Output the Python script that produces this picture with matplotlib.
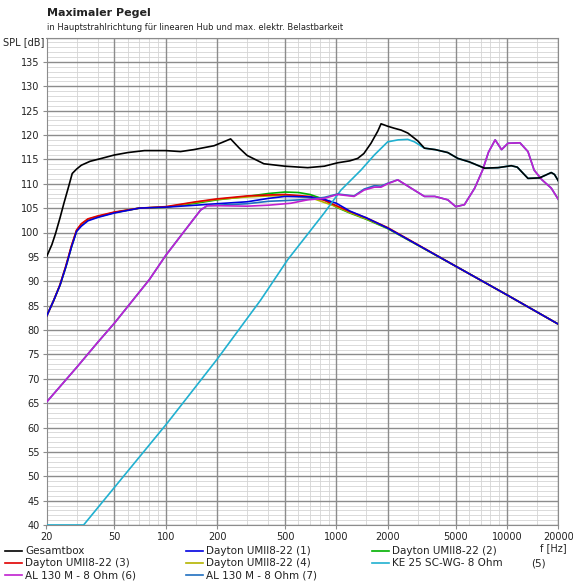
import numpy as np
import matplotlib
matplotlib.use("Agg")
import matplotlib.pyplot as plt
from matplotlib.lines import Line2D

# Gesamtbox
f_total = [20, 21.5, 22.6, 24, 25.3, 27, 28.3, 30, 32, 36, 42, 50, 60, 75, 100, 122,
           146, 192, 215, 240, 270, 300, 376, 500, 679, 850, 1018, 1200, 1334, 1450,
           1596, 1750, 1828, 2000, 2179, 2400, 2623, 3000, 3284, 3800, 4500, 5152,
           6000, 7387, 8860, 10600, 11500, 13280, 15530, 18190, 19000, 20000]
spl_total = [95.0, 97.5, 99.8, 103.0, 106.0, 109.5, 112.1, 113.0, 113.8, 114.6, 115.2,
             115.9, 116.4, 116.8, 116.8, 116.6, 117.0, 117.8, 118.5, 119.2, 117.3, 115.8,
             114.1, 113.6, 113.3, 113.6, 114.3, 114.7, 115.2, 116.2, 118.3, 120.8, 122.3,
             121.8, 121.4, 121.0, 120.4, 118.8, 117.3, 117.0, 116.4, 115.2, 114.5, 113.2,
             113.3, 113.7, 113.4, 111.1, 111.2, 112.3, 111.9, 110.6]

# Dayton UMII8-22 (1)
f_d1 = [20, 22, 24, 26, 28, 30, 32, 35, 40, 50, 70, 100, 150, 200, 300, 400, 500, 700,
        850, 1000, 1200, 1500, 2000, 5000, 10000, 20000]
spl_d1 = [82.8, 86.0, 89.2, 93.0, 97.0, 100.2, 101.3, 102.4, 103.1, 104.0, 105.0, 105.2,
          105.6, 105.9, 106.3, 107.0, 107.4, 107.3, 106.8, 106.0, 104.4, 103.0, 100.9,
          93.1, 87.2, 81.2]

# Dayton UMII8-22 (2)
f_d2 = [20, 22, 24, 26, 28, 30, 32, 35, 40, 50, 70, 100, 150, 200, 300, 400, 500, 600,
        700, 850, 1000, 1200, 1500, 2000, 5000, 10000, 20000]
spl_d2 = [82.8, 86.0, 89.2, 93.0, 97.0, 100.3, 101.6, 102.6, 103.2, 104.1, 105.0, 105.2,
          106.0, 106.7, 107.4, 108.0, 108.3, 108.2, 107.8, 106.8, 105.2, 104.0, 102.7,
          100.8, 93.1, 87.2, 81.2]

# Dayton UMII8-22 (3)
f_d3 = [20, 22, 24, 26, 28, 30, 32, 35, 40, 50, 70, 100, 150, 200, 300, 400, 500, 700,
        850, 1000, 1200, 1500, 2000, 5000, 10000, 20000]
spl_d3 = [82.8, 86.0, 89.3, 93.2, 97.3, 100.5, 101.8, 102.8, 103.4, 104.2, 105.0, 105.3,
          106.3, 106.9, 107.5, 107.7, 107.8, 107.4, 106.6, 105.5, 104.3, 103.0, 101.0,
          93.1, 87.2, 81.2]

# Dayton UMII8-22 (4)
f_d4 = [20, 22, 24, 26, 28, 30, 32, 35, 40, 50, 70, 100, 150, 200, 300, 400, 500, 700,
        1000, 1200, 1500, 2000, 5000, 10000, 20000]
spl_d4 = [82.8, 86.0, 89.2, 93.1, 97.1, 100.4, 101.7, 102.7, 103.3, 104.1, 105.0, 105.2,
          106.2, 106.8, 107.3, 107.5, 107.6, 107.2, 105.3, 104.1, 102.8, 100.9, 93.1,
          87.2, 81.2]

# KE 25 SC-WG- 8 Ohm (5)
f_ke = [20, 33, 50, 102, 200, 361, 518, 849, 1064, 1394, 1670, 2000, 2300, 2623, 2870,
        3284, 3800, 4500, 5152, 6000, 7387, 8860, 10600, 11500, 13280, 15530, 18190,
        19000, 20000]
spl_ke = [40.0, 40.0, 47.7, 60.9, 74.0, 86.2, 94.4, 104.0, 108.7, 112.8, 115.9, 118.6,
          119.0, 119.1, 118.6, 117.3, 117.0, 116.4, 115.2, 114.5, 113.2, 113.3, 113.7,
          113.4, 111.1, 111.2, 112.3, 111.9, 110.6]

# AL 130 M - 8 Ohm (6)
f_al6 = [20, 30, 40, 50, 80, 100, 130, 160, 175, 200, 300, 400, 540, 679, 849, 1018,
         1270, 1454, 1670, 1828, 2000, 2291, 2741, 3284, 3780, 4500, 5012, 5630, 6470,
         7200, 7800, 8530, 9300, 10140, 11920, 13280, 14430, 16050, 18190, 20000]
spl_al6 = [65.2, 72.3, 77.5, 81.4, 90.3, 95.3, 100.5, 104.6, 105.5, 105.5, 105.4, 105.6,
           106.0, 106.7, 107.0, 107.8, 107.4, 108.7, 109.3, 109.3, 110.0, 110.8, 109.1,
           107.4, 107.4, 106.7, 105.3, 105.7, 109.1, 112.8, 116.5, 119.0, 117.0, 118.3,
           118.4, 116.6, 112.8, 110.8, 109.1, 106.8]

# AL 130 M - 8 Ohm (7)
f_al7 = [20, 30, 40, 50, 80, 100, 130, 160, 175, 200, 300, 400, 540, 679, 849, 1018,
         1270, 1454, 1670, 1828, 2000, 2291, 2741, 3284, 3780, 4500, 5012, 5630, 6470,
         7200, 7800, 8530, 9300, 10140, 11920, 13280, 14430, 16050, 18190, 20000]
spl_al7 = [65.2, 72.3, 77.5, 81.4, 90.3, 95.3, 100.5, 104.6, 105.5, 105.6, 105.9, 106.4,
           106.6, 106.8, 107.2, 107.9, 107.5, 108.9, 109.6, 109.5, 110.1, 110.8, 109.1,
           107.4, 107.4, 106.7, 105.3, 105.7, 109.1, 112.8, 116.5, 119.0, 117.0, 118.3,
           118.4, 116.6, 112.8, 110.8, 109.1, 106.8]

x_major = [20, 50, 100, 200, 500, 1000, 2000, 5000, 10000, 20000]
x_minor = [30, 40, 60, 70, 80, 90, 150, 300, 400, 600, 700, 800, 900, 1500, 3000, 4000,
           6000, 7000, 8000, 9000, 15000]
y_major = list(range(40, 141, 5))
y_minor = [v for v in range(41, 140) if v % 5]

series = [
    (f_d2, spl_d2, "#00b000", "Dayton UMII8-22 (2)"),
    (f_d4, spl_d4, "#b4b400", "Dayton UMII8-22 (4)"),
    (f_d3, spl_d3, "#e00000", "Dayton UMII8-22 (3)"),
    (f_d1, spl_d1, "#0000e0", "Dayton UMII8-22 (1)"),
    (f_ke, spl_ke, "#20b0d0", "KE 25 SC-WG- 8 Ohm"),
    (f_al7, spl_al7, "#2070c0", "AL 130 M - 8 Ohm (7)"),
    (f_al6, spl_al6, "#c020d0", "AL 130 M - 8 Ohm (6)"),
    (f_total, spl_total, "#000000", "Gesamtbox"),
]

txt = "#222222"
fig = plt.figure(figsize=(5.73, 5.83), dpi=100)
ax = fig.add_axes([46.5 / 573, 1 - 525 / 583, (558.3 - 46.5) / 573, (525 - 37.5) / 583])

# grid drawn by hand so the major lines sit on top of the minor ones
for v in x_minor:
    ax.axvline(v, color="#d4d4d4", lw=0.6, zorder=0.5)
for v in y_minor:
    ax.axhline(v, color="#d4d4d4", lw=0.6, zorder=0.5)
for v in x_major:
    ax.axvline(v, color="#8c8c8c", lw=1.0, zorder=1)
for v in y_major:
    ax.axhline(v, color="#8c8c8c", lw=1.0, zorder=1)

for f, s, c, lab in series:
    ax.plot(f, s, color=c, lw=1.2, zorder=3)

ax.set_xscale("log")
ax.set_xlim(20, 20000)
ax.set_ylim(40, 140)
ax.set_xticks(x_major)
ax.set_xticklabels([str(v) for v in x_major])
ax.set_xticks([], minor=True)
ax.set_yticks(y_major[:-1])
ax.tick_params(which="major", length=3, color="#8c8c8c", labelsize=7, pad=2,
               labelcolor=txt)
for sp in ax.spines.values():
    sp.set_color("#8c8c8c")

fig.text(47 / 573, 1 - 13 / 583, "Maximaler Pegel", fontsize=8, fontweight="bold",
         va="center", ha="left", color=txt)
fig.text(47 / 573, 1 - 28 / 583,
         "in Hauptstrahlrichtung für linearen Hub und max. elektr. Belastbarkeit",
         fontsize=6, va="center", ha="left", color=txt)
fig.text(44 / 573, 1 - 42 / 583, "SPL [dB]", fontsize=7, va="center", ha="right",
         color=txt)
fig.text(567 / 573, 1 - 548 / 583, "f [Hz]", fontsize=7, va="center", ha="right",
         color=txt)

# legend, three columns
legend_items = [
    ("Gesamtbox", "#000000", 5, 551), ("Dayton UMII8-22 (1)", "#0000e0", 186, 551),
    ("Dayton UMII8-22 (2)", "#00b000", 372, 551),
    ("Dayton UMII8-22 (3)", "#e00000", 5, 563), ("Dayton UMII8-22 (4)", "#b4b400", 186, 563),
    ("KE 25 SC-WG- 8 Ohm", "#20b0d0", 372, 563),
    ("AL 130 M - 8 Ohm (6)", "#c020d0", 5, 575), ("AL 130 M - 8 Ohm (7)", "#2070c0", 186, 575),
]
for lab, c, x0, y0 in legend_items:
    yy = 1 - y0 / 583
    fig.add_artist(Line2D([x0 / 573, (x0 + 17) / 573], [yy, yy], color=c, lw=1.2))
    fig.text((x0 + 20) / 573, yy, lab, fontsize=7.5, va="center", ha="left", color=txt)
fig.text(531 / 573, 1 - 563 / 583, "(5)", fontsize=7.5, va="center", ha="left", color=txt)

fig.savefig("out.png", dpi=100)
